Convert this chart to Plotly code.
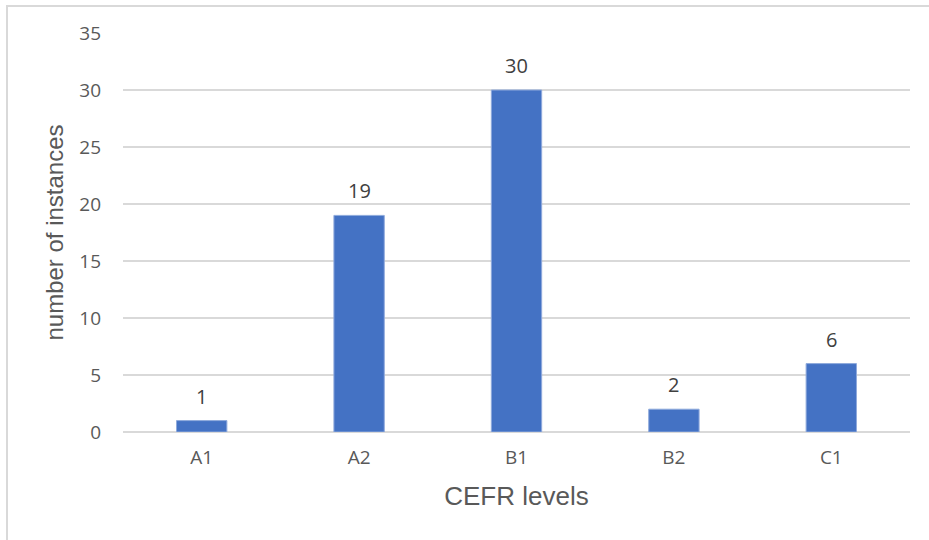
import plotly.graph_objects as go

# CEFR level counts
levels = ["A1", "A2", "B1", "B2", "C1"]
instances = [1, 19, 30, 2, 6]
y_ticks = [0, 5, 10, 15, 20, 25, 30, 35]

BAR_BLUE = "#4472C4"
GRID = "#d9d9d9"
TICK_GREY = "#595959"
TICK_FONT = dict(family="Open Sans, sans-serif", size=19, color=TICK_GREY)

fig = go.Figure(
    go.Bar(
        x=levels,
        y=instances,
        marker=dict(color=BAR_BLUE, line=dict(color="#8faadc", width=1)),
        hoverinfo="x+y",
    )
)

# value labels above each bar
for lvl, val in zip(levels, instances):
    fig.add_annotation(
        x=lvl,
        y=val,
        text=str(val),
        showarrow=False,
        yanchor="bottom",
        yshift=9,
        font=dict(family="Open Sans, sans-serif", size=20, color="#404040"),
    )

fig.update_layout(
    width=929,
    height=540,
    margin=dict(l=123, r=19, t=33, b=108),
    paper_bgcolor="white",
    plot_bgcolor="white",
    showlegend=False,
    bargap=0.68,
    xaxis=dict(
        showgrid=False,
        showline=False,
        zeroline=False,
        tickfont=TICK_FONT,
        ticklabelstandoff=12,
        title=dict(
            text="CEFR levels",
            font=dict(family="Liberation Sans, Arial, sans-serif", size=26, color=TICK_GREY),
            standoff=17,
        ),
    ),
    yaxis=dict(
        range=[0, 35],
        tickvals=y_ticks,
        showgrid=True,
        gridcolor=GRID,
        gridwidth=1.5,
        zeroline=True,
        zerolinecolor=GRID,
        zerolinewidth=1.5,
        showline=False,
        tickfont=TICK_FONT,
        ticklabelstandoff=21,
        title=dict(
            text="number of instances",
            font=dict(family="Liberation Sans, Arial, sans-serif", size=24, color=TICK_GREY),
            standoff=8,
        ),
    ),
    shapes=[
        dict(
            type="rect",
            xref="paper",
            yref="paper",
            x0=-0.1474,
            x1=1.04,
            y0=-0.29,
            y1=1.0677,
            line=dict(color=GRID, width=2),
            fillcolor="rgba(0,0,0,0)",
            layer="below",
        )
    ],
)

fig.write_html("out.html")
